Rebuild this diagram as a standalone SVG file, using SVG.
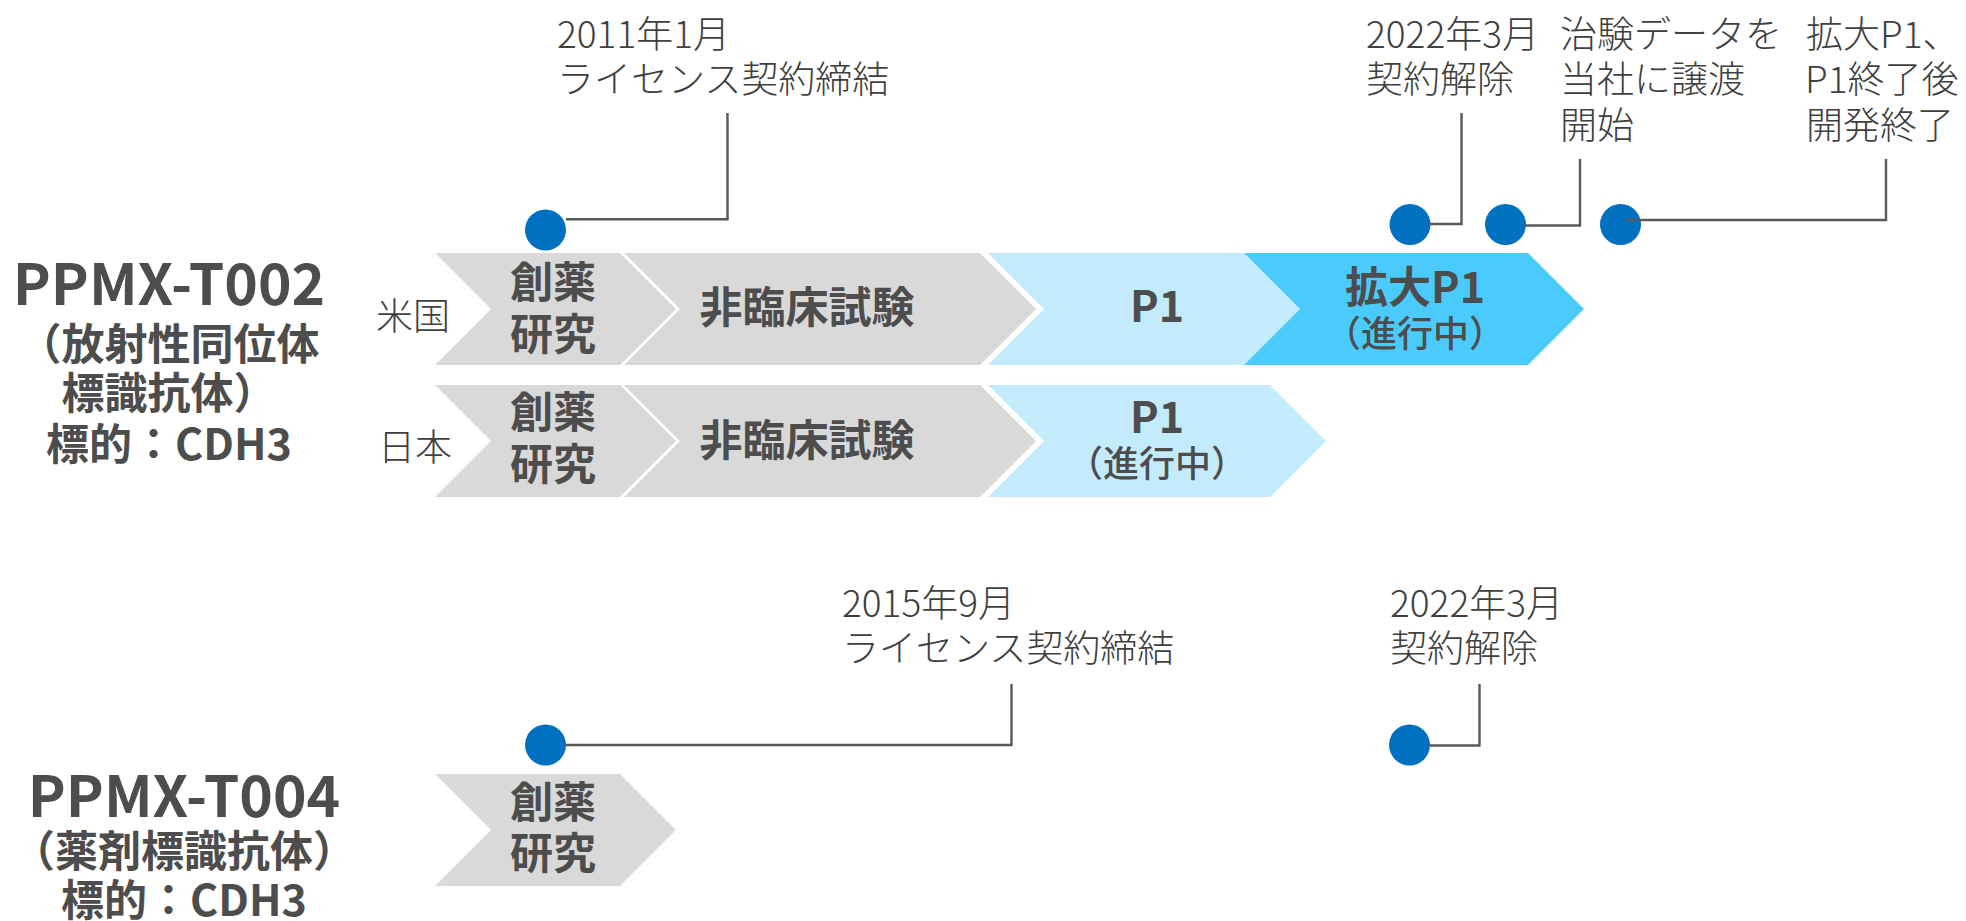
<svg xmlns="http://www.w3.org/2000/svg" width="1966" height="921" viewBox="0 0 1966 921">
<style>
text { font-family: "Noto Sans CJK JP", "Noto Sans", sans-serif; }
.title { font-size: 57px; font-weight: 700; fill: #4d4d4d; text-anchor: middle; }
.subt { font-size: 43px; font-weight: 700; fill: #4d4d4d; text-anchor: middle; }
.stage { font-size: 43px; font-weight: 700; fill: #4d4d4d; text-anchor: middle; }
.prog { font-size: 36px; font-weight: 500; fill: #4d4d4d; text-anchor: middle; }
.lbl { font-size: 37px; font-weight: 300; fill: #404040; }
.ctry { font-size: 37px; font-weight: 300; fill: #404040; }
.gray { fill: #d9d9d9; }
.light { fill: #c4ebfc; }
.dark { fill: #4bcafc; }
.dot { fill: #0070c0; }
.conn { fill: none; stroke: #595959; stroke-width: 2.4; }
</style>

<g id="title-t002">
  <text class="title" x="169" y="305">PPMX-T002</text>
  <text class="subt" x="169" y="360">（放射性同位体</text>
  <text class="subt" x="169" y="409">標識抗体）</text>
  <text class="subt" x="169" y="460">標的：CDH3</text>
</g>
<g id="title-t004">
  <text class="title" x="184" y="817">PPMX-T004</text>
  <text class="subt" x="184" y="867">（薬剤標識抗体）</text>
  <text class="subt" x="184" y="916">標的：CDH3</text>
</g>

<g id="country-us"><text class="ctry" x="376" y="330">米国</text></g>
<g id="country-jp"><text class="ctry" x="378" y="461">日本</text></g>

<g id="us-discovery">
  <path class="gray" d="M435,253 H620 L676,309 L620,365 H435 L491,309 Z"/>
  <text class="stage" x="553" y="298">創薬</text>
  <text class="stage" x="553" y="350">研究</text>
</g>
<g id="us-nonclinical">
  <path class="gray" d="M624,253 H980 L1036,309 L980,365 H624 L680,309 Z"/>
  <text class="stage" x="807" y="323">非臨床試験</text>
</g>
<g id="us-p1">
  <path class="light" d="M988,253 H1244 L1300,309 L1244,365 H988 L1044,309 Z"/>
  <text class="stage" x="1157" y="322">P1</text>
</g>
<g id="us-expanded-p1">
  <path class="dark" d="M1244,253 H1528 L1584,309 L1528,365 H1244 L1300,309 Z"/>
  <text class="stage" x="1415" y="303">拡大P1</text>
  <text class="prog" x="1415" y="347">（進行中）</text>
</g>

<g id="jp-discovery">
  <path class="gray" d="M435,385 H620 L676,441 L620,497 H435 L491,441 Z"/>
  <text class="stage" x="553" y="428">創薬</text>
  <text class="stage" x="553" y="480">研究</text>
</g>
<g id="jp-nonclinical">
  <path class="gray" d="M624,385 H980 L1036,441 L980,497 H624 L680,441 Z"/>
  <text class="stage" x="807" y="456">非臨床試験</text>
</g>
<g id="jp-p1">
  <path class="light" d="M988,385 H1270 L1326,441 L1270,497 H988 L1044,441 Z"/>
  <text class="stage" x="1157" y="433">P1</text>
  <text class="prog" x="1157" y="477">（進行中）</text>
</g>

<g id="t004-discovery">
  <path class="gray" d="M435,774 H620 L676,830 L620,886 H435 L491,830 Z"/>
  <text class="stage" x="553" y="818">創薬</text>
  <text class="stage" x="553" y="869">研究</text>
</g>

<g id="ev-2011">
  <circle class="dot" cx="545.5" cy="230" r="20.5"/>
  <text class="lbl" x="557" y="48">2011年1月</text>
  <text class="lbl" x="557" y="93">ライセンス契約締結</text>
</g>
<g id="ev-2022-us">
  <circle class="dot" cx="1410" cy="224.5" r="20.5"/>
  <text class="lbl" x="1366" y="48">2022年3月</text>
  <text class="lbl" x="1366" y="93">契約解除</text>
</g>
<g id="ev-transfer">
  <circle class="dot" cx="1505.5" cy="224.5" r="20.5"/>
  <text class="lbl" x="1560" y="48">治験データを</text>
  <text class="lbl" x="1560" y="93">当社に譲渡</text>
  <text class="lbl" x="1560" y="139">開始</text>
</g>
<g id="ev-end">
  <circle class="dot" cx="1620.5" cy="224.5" r="20.5"/>
  <text class="lbl" x="1806" y="48">拡大P1、</text>
  <text class="lbl" x="1805" y="93">P1終了後</text>
  <text class="lbl" x="1806" y="139">開発終了</text>
</g>
<g id="ev-2015">
  <circle class="dot" cx="545.5" cy="745" r="20.5"/>
  <text class="lbl" x="842" y="617">2015年9月</text>
  <text class="lbl" x="842" y="662">ライセンス契約締結</text>
</g>
<g id="ev-2022-t004">
  <circle class="dot" cx="1409.5" cy="745" r="20.5"/>
  <text class="lbl" x="1390" y="617">2022年3月</text>
  <text class="lbl" x="1390" y="662">契約解除</text>
</g>

<g id="connectors">
  <polyline class="conn" points="566,219.3 727.5,219.3 727.5,113"/>
  <polyline class="conn" points="1430,224 1461.5,224 1461.5,113"/>
  <polyline class="conn" points="1526,225.5 1580,225.5 1580,159"/>
  <polyline class="conn" points="1626,220 1886,220 1886,159"/>
  <polyline class="conn" points="566,745 1011.5,745 1011.5,684"/>
  <polyline class="conn" points="1430,745.5 1479.5,745.5 1479.5,684"/>
</g>
</svg>
